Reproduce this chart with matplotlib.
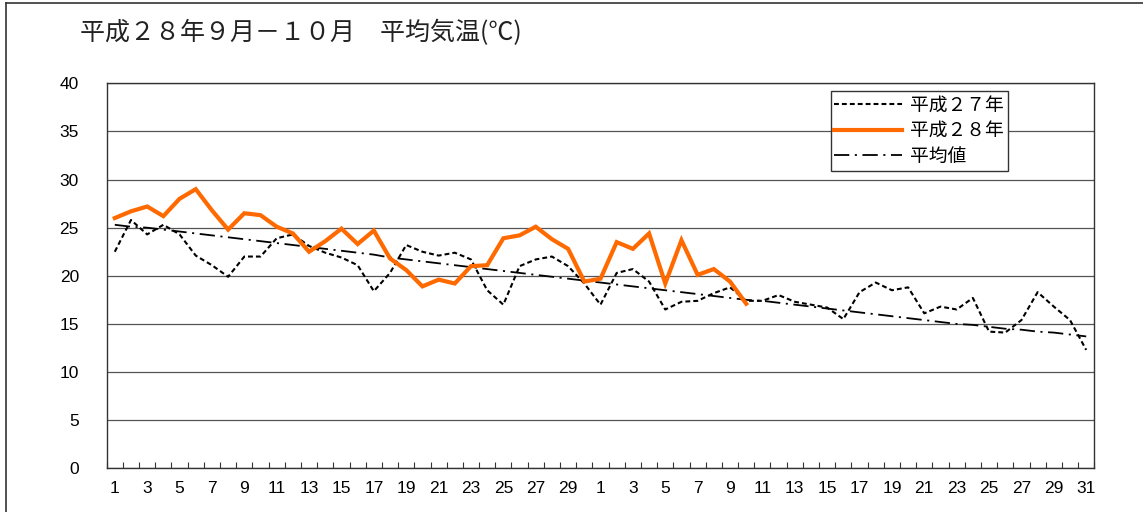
import matplotlib
matplotlib.use("Agg")
import matplotlib.pyplot as plt
import numpy as np
from matplotlib.lines import Line2D

# ---- data ----
sep_days = list(range(1, 31))
oct_days = list(range(1, 32))
day_labels = [str(d) for d in sep_days + oct_days]

h27 = [22.5, 25.8, 24.3, 25.3, 24.3, 22.1, 21.1, 19.9, 22.0, 22.0,
       23.9, 24.3, 23.1, 22.4, 21.9, 21.1, 18.4, 20.3, 23.2, 22.5,
       22.1, 22.4, 21.7, 18.5, 17.0, 21.0, 21.7, 22.0, 21.0, 19.2,
       17.0, 20.3, 20.7, 19.4, 16.5, 17.3, 17.4, 18.2, 18.8, 17.4,
       17.4, 18.0, 17.3, 17.0, 16.7, 15.5, 18.3, 19.3, 18.5, 18.8,
       16.1, 16.8, 16.5, 17.7, 14.2, 14.1, 15.4, 18.3, 16.8, 15.4,
       12.3]

h28 = [26.0, 26.7, 27.2, 26.2, 28.0, 29.0, 26.8, 24.8, 26.5, 26.3,
       25.1, 24.4, 22.5, 23.6, 24.9, 23.3, 24.7, 21.8, 20.6, 18.9,
       19.6, 19.2, 21.0, 21.1, 23.9, 24.2, 25.1, 23.8, 22.8, 19.4,
       19.7, 23.5, 22.8, 24.4, 19.2, 23.7, 20.1, 20.7, 19.4, 17.1]

normal = [25.3, 25.1, 25.0, 24.8, 24.6, 24.4, 24.2, 24.0, 23.8, 23.6,
          23.4, 23.2, 23.0, 22.8, 22.6, 22.4, 22.2, 21.9, 21.7, 21.5,
          21.3, 21.1, 20.9, 20.7, 20.5, 20.3, 20.1, 19.9, 19.7, 19.5,
          19.3, 19.1, 18.9, 18.7, 18.5, 18.3, 18.1, 17.9, 17.7, 17.5,
          17.4, 17.2, 17.0, 16.8, 16.6, 16.4, 16.2, 16.0, 15.8, 15.6,
          15.4, 15.2, 15.0, 14.9, 14.7, 14.5, 14.4, 14.2, 14.1, 13.9,
          13.7]

series_names = ["平成２７年", "平成２８年", "平均値"]
title = "平成２８年９月－１０月　平均気温(℃)"
yticks = [0, 5, 10, 15, 20, 25, 30, 35, 40]

plt.rcParams['font.family'] = ['Liberation Sans', 'Noto Sans CJK JP', 'DejaVu Sans']
plt.rcParams['lines.scale_dashes'] = False

fig = plt.figure(figsize=(11.43, 5.12), dpi=100)
ax = fig.add_axes([106.7 / 1143, 1 - 468.3 / 512, (1094.3 - 106.7) / 1143, (468.3 - 83.3) / 512])

x_all = np.arange(len(day_labels))
ax.plot(x_all, h27, color='black', lw=1.5, linestyle=(0, (3.5, 2.2)), zorder=3)
ax.plot(np.arange(len(h28)), h28, color='#FF6A00', lw=3.0, zorder=4, solid_joinstyle='miter')
ax.plot(x_all, normal, color='black', lw=1.3, linestyle=(0, (11, 4, 1.5, 4)), zorder=3)

ax.set_xlim(-0.5, len(day_labels) - 0.5)
ax.set_ylim(0, 40)
ax.set_yticks(yticks)
ax.set_yticklabels([str(v) for v in yticks], fontsize=12.5, family=['Liberation Sans'])
ax.tick_params(axis='y', length=0, pad=20)
ax.yaxis.grid(True, color='#555555', lw=0.9)
ax.set_axisbelow(True)

lab_pos = x_all[::2]
ax.set_xticks(lab_pos)
ax.set_xticklabels([day_labels[i] for i in lab_pos], fontsize=12.5, family=['Liberation Sans'])
ax.set_xticks(np.arange(-0.5, len(day_labels)), minor=True)
ax.tick_params(axis='x', which='major', length=0, pad=9)
ax.tick_params(axis='x', which='minor', direction='in', length=4, width=0.8, color='#333333')

for s in ax.spines.values():
    s.set_color('#333333')
    s.set_linewidth(1.0)

handles = [
    Line2D([], [], color='black', lw=1.5, linestyle=(0, (3.5, 2.2))),
    Line2D([], [], color='#FF6A00', lw=3.0),
    Line2D([], [], color='black', lw=1.3, linestyle=(0, (11, 4, 1.5, 4))),
]
leg = ax.legend(handles, series_names, loc='upper left',
                bbox_to_anchor=(830.7 / 1143, 1 - 90.7 / 512), bbox_transform=fig.transFigure,
                prop={'family': ['Noto Sans CJK JP'], 'size': 13.5},
                frameon=True, fancybox=False, edgecolor='#333333', framealpha=1,
                handlelength=3.6, handletextpad=0.45, borderpad=0.2, labelspacing=0.25,
                borderaxespad=0)
leg.get_frame().set_linewidth(1.0)

fig.text(80 / 1143, 1 - 33 / 512, title, fontsize=18, family=['Noto Sans CJK JP'],
         ha='left', va='center', color='#222222')

# outer frame (top and left)
fig.add_artist(Line2D([6 / 1143, 6 / 1143], [0, 1 - 3 / 512], transform=fig.transFigure,
                      color='#333333', lw=1.2))
fig.add_artist(Line2D([6 / 1143, 1], [1 - 3 / 512, 1 - 3 / 512], transform=fig.transFigure,
                      color='#333333', lw=1.2))

fig.savefig('out.png', dpi=100)
